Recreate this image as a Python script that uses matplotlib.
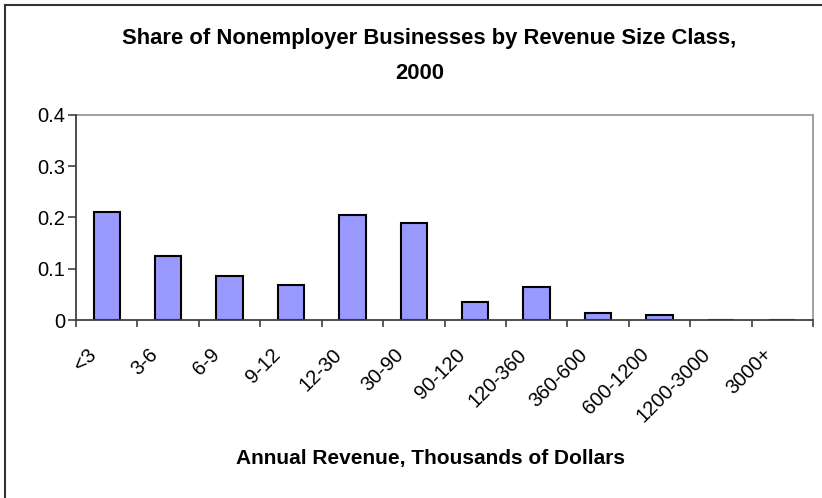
import matplotlib.pyplot as plt
import matplotlib.transforms as mtransforms
from matplotlib.lines import Line2D

# Revenue size classes and share of nonemployer businesses
categories = ['<3', '3-6', '6-9', '9-12', '12-30', '30-90', '90-120',
              '120-360', '360-600', '600-1200', '1200-3000', '3000+']
shares = [0.211, 0.125, 0.086, 0.068, 0.204, 0.189, 0.036,
          0.064, 0.013, 0.009, 0.0002, 0.0001]
y_ticks = [0, 0.1, 0.2, 0.3, 0.4]
y_labels = ['0', '0.1', '0.2', '0.3', '0.4']

plt.rcParams['font.family'] = ['Liberation Sans', 'DejaVu Sans']

fig = plt.figure(figsize=(8.22, 4.98), dpi=100)
ax = fig.add_axes([76 / 822, 1 - 320 / 498, (813 - 76) / 822, (320 - 115) / 498])

x = range(len(categories))
ax.bar(x, shares, width=0.43, color='#9999ff', edgecolor='black', linewidth=1.5)

ax.set_xlim(-0.5, len(categories) - 0.5)
ax.set_ylim(0, 0.4)

# labels at category centres, tick marks at category borders
ax.set_xticks(list(x))
ax.set_xticklabels(categories, rotation=45, ha='right', va='top',
                   rotation_mode='anchor', fontsize=14.5)
ax.set_xticks([i - 0.5 for i in range(len(categories) + 1)], minor=True)
ax.tick_params(axis='x', which='major', length=0, pad=18)
ax.tick_params(axis='x', which='minor', length=5, width=1.2, color='#404040')
shift = mtransforms.ScaledTranslation(-20 / 100, 0, fig.dpi_scale_trans)
for lbl in ax.get_xticklabels():
    lbl.set_transform(lbl.get_transform() + shift)

ax.set_yticks(y_ticks)
ax.set_yticklabels(y_labels, fontsize=14.5)
ax.tick_params(axis='y', length=6, width=1.2, color='#404040', pad=2)

for side in ['left', 'bottom']:
    ax.spines[side].set_color('#404040')
    ax.spines[side].set_linewidth(1.3)
    ax.spines[side].set_zorder(3)
for side in ['top', 'right']:
    ax.spines[side].set_color('#999999')
    ax.spines[side].set_linewidth(1.3)

fig.text(429 / 822, 1 - 38 / 498,
         'Share of Nonemployer Businesses by Revenue Size Class,',
         ha='center', va='center', fontsize=15.8, fontweight='bold')
fig.text(420 / 822, 1 - 73 / 498, '2000',
         ha='center', va='center', fontsize=15.8, fontweight='bold')
fig.text(430 / 822, 1 - 458 / 498, 'Annual Revenue, Thousands of Dollars',
         ha='center', va='center', fontsize=15, fontweight='bold')

# chart area border (only left and top are visible in the crop)
fig.add_artist(Line2D([5 / 822, 5 / 822], [0, 1 - 5 / 498],
                      transform=fig.transFigure, color='#333333', linewidth=1.5))
fig.add_artist(Line2D([5 / 822, 1], [1 - 5 / 498, 1 - 5 / 498],
                      transform=fig.transFigure, color='#333333', linewidth=1.5))

fig.savefig('out.png', dpi=100)
